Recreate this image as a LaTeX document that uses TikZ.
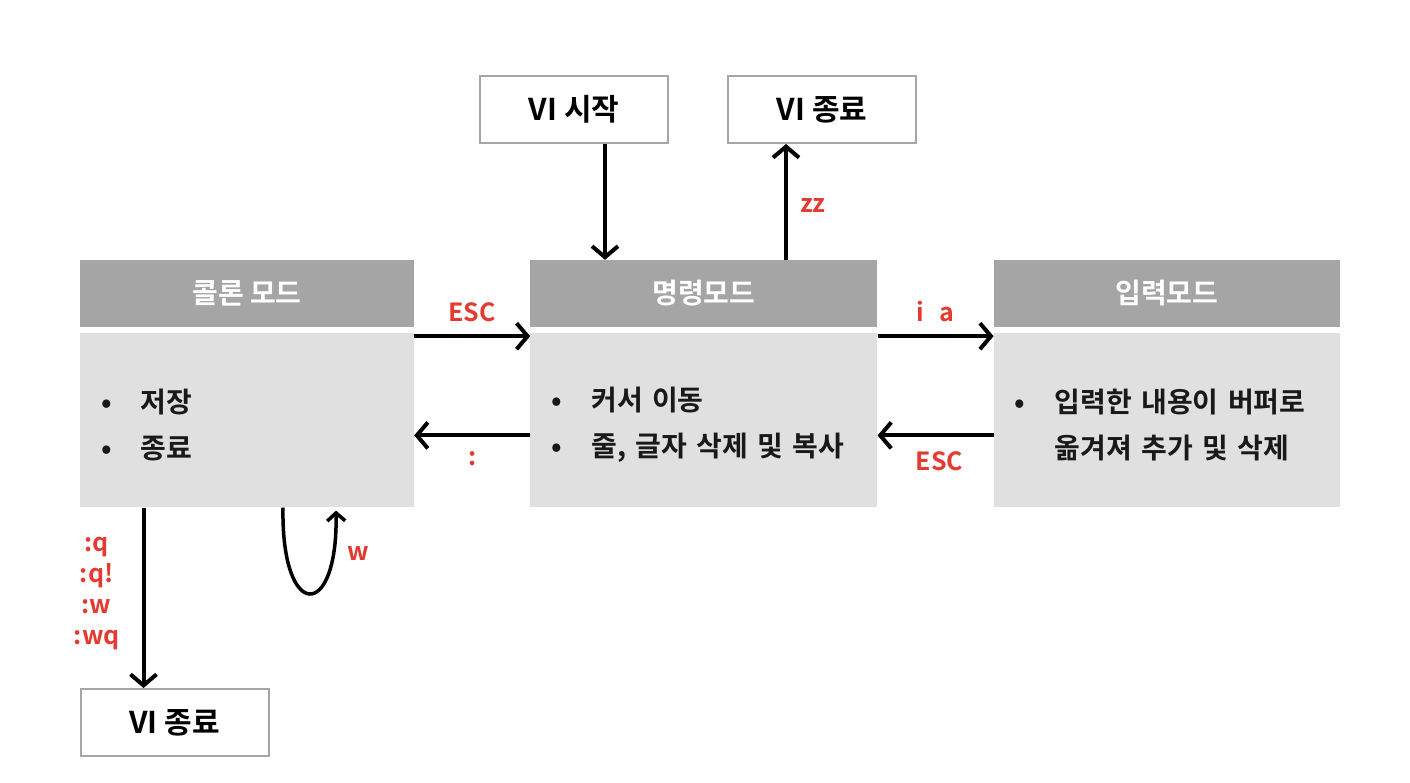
\documentclass[tikz,border=0pt]{standalone}
\usepackage{fontspec}
\setmainfont{Noto Sans CJK KR}[BoldFont={Noto Sans CJK KR Bold}]
\usetikzlibrary{positioning}
\usetikzlibrary{arrows.meta}
\definecolor{headgray}{HTML}{A5A5A5}
\definecolor{bodygray}{HTML}{E0E0E0}
\definecolor{boxline}{HTML}{A6A6A6}
\definecolor{keyred}{HTML}{E53A2F}
\newcommand{\bul}{\makebox[40pt][l]{•}}
\newcommand{\toppad}{\rule{0pt}{33pt}}
\tikzset{
	mode head/.style={
		fill=headgray, text=white,
		minimum height=67pt, inner sep=0pt,
		font=\fontsize{28}{32}\selectfont\bfseries
	},
	mode body/.style={
		fill=bodygray, text=black!90,
		minimum height=174pt, inner xsep=21pt, inner ysep=0pt,
		align=left,
		font=\fontsize{28}{46}\selectfont\bfseries
	},
	end box/.style={
		draw=boxline, line width=2pt, fill=white,
		minimum width=188pt, minimum height=67pt, inner sep=0pt,
		font=\fontsize{30}{32}\selectfont\bfseries
	},
	flow/.style={
		line width=4pt, -{Straight Barb[length=11pt,width=26pt]}
	},
	key/.style={
		text=keyred, inner sep=0pt,
		font=\fontsize{25}{31}\selectfont\bfseries
	}
}
\begin{document}
\begin{tikzpicture}[x=1pt, y=-1pt]
	\useasboundingbox (0,0) rectangle (1410,782);
	
	% 세 가지 모드
	\node[mode head, minimum width=334pt] (colon head) at (247,293.5) {\raisebox{-3pt}{콜론 모드}};
	\node[mode head, minimum width=347pt, right=116pt of colon head] (cmd head) {\raisebox{-3pt}{명령모드}};
	\node[mode head, minimum width=346pt, right=116pt of cmd head] (input head) {\raisebox{-3pt}{입력모드}};
	
	\node[mode body, minimum width=334pt, text width=292pt, below=6pt of colon head] (colon body) {%
		\toppad\bul 저장\\
		\bul 종료
	};
	\node[mode body, minimum width=347pt, text width=305pt, below=6pt of cmd head] (cmd body) {%
		\toppad\bul 커서 이동\\
		\bul 줄, 글자 삭제 및 복사
	};
	\node[mode body, minimum width=346pt, text width=304pt, below=6pt of input head] (input body) {%
		\toppad\bul 입력한 내용이 버퍼로\\
		\hspace*{40pt}옮겨져 추가 및 삭제
	};
	
	% 시작과 종료
	\node[end box] (start) at (574,109.5) {VI 시작};
	\node[end box] (top exit) at (822,109.5) {VI 종료};
	\node[end box] (end exit) at (174.5,722.5) {VI 종료};
	
	\draw[flow] ([xshift=31pt]start.south) -- ([xshift=31pt]start.south |- cmd head.north);
	\draw[flow] ([xshift=-36pt]top exit.south |- cmd head.north) -- ([xshift=-36pt]top exit.south)
		node[key, midway, right=12pt, yshift=-4pt] {zz};
	
	\draw[flow] ([yshift=-3pt]colon body.north east) -- ([yshift=-3pt]cmd body.north west)
		node[key, midway, above=12pt] {ESC};
	\draw[flow] ([yshift=-15pt]cmd body.west) -- ([yshift=-15pt]colon body.east)
		node[key, midway, below=14pt] {:};
	\draw[flow] ([yshift=-3pt]cmd body.north east) -- ([yshift=-3pt]input body.north west)
		node[key, midway, above=12pt] {i\hspace{15pt}a};
	\draw[flow] ([yshift=-15pt]input body.west) -- ([yshift=-15pt]cmd body.east)
		node[key, midway, below=14pt, xshift=4pt] {ESC};
	
	\draw[flow] ([xshift=-31pt]end exit.north |- colon body.south) -- ([xshift=-31pt]end exit.north)
		node[key, midway, left=22pt, align=center, yshift=4pt] {:q\\:q!\\:w\\:wq};
	
	\draw[line width=3.5pt, -{Straight Barb[length=8pt,width=18pt]}]
		([xshift=36pt]colon body.south) .. controls +(-2,114) and +(2,111) .. ([xshift=89pt,yshift=-3pt]colon body.south)
		node[key, pos=0.85, right=12pt] {w};
\end{tikzpicture}
\end{document}
